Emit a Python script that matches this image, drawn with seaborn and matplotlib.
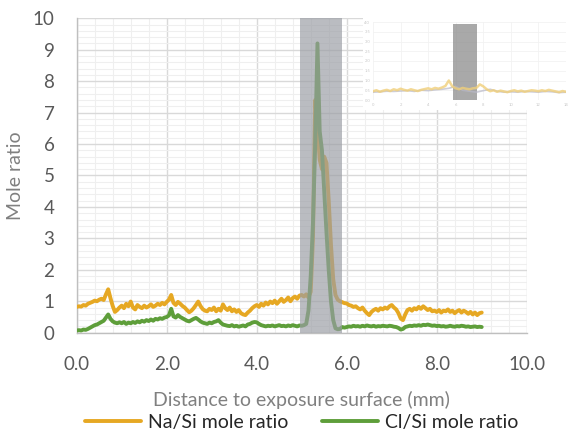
import numpy as np
import pandas as pd
import seaborn as sns
import matplotlib.pyplot as plt
from matplotlib.lines import Line2D
from matplotlib.ticker import MultipleLocator, FormatStrFormatter

sns.set_style("white")
plt.rcParams['font.family'] = ['Lato', 'DejaVu Sans']

# ---- data (0.05 mm step, 0 - 9 mm) ----
distance = np.round(np.arange(0, 181) * 0.05, 2)

na_si = [
    0.82, 0.84, 0.83, 0.88, 0.86, 0.92, 0.95, 0.98, 1.02, 1.00, 1.05, 1.08, 1.04, 1.22, 1.38, 1.10, 0.85, 0.66, 0.72, 0.80,
    0.86, 0.78, 0.92, 0.84, 0.99, 0.80, 0.74, 0.88, 0.82, 0.78, 0.86, 0.80, 0.84, 0.90, 0.82, 0.86, 0.92, 0.88, 0.95, 0.90,
    0.98, 1.05, 1.20, 0.95, 0.88, 0.98, 0.92, 0.85, 0.80, 0.72, 0.65, 0.70, 0.78, 0.88, 0.99, 0.85, 0.75, 0.70, 0.68, 0.76,
    0.72, 0.80, 0.68, 0.76, 0.70, 0.90, 0.78, 0.72, 0.80, 0.68, 0.74, 0.66, 0.72, 0.62, 0.58, 0.56, 0.64, 0.70, 0.78, 0.84,
    0.88, 0.82, 0.92, 0.86, 0.96, 0.90, 0.99, 0.94, 1.02, 0.92, 1.00, 1.08, 0.98, 1.04, 1.12, 1.00, 1.10, 1.15, 1.08, 1.18,
    1.20, 1.15, 1.22, 1.12, 1.30, 3.00, 7.40, 6.50, 5.50, 5.20, 5.60, 5.40, 4.20, 2.80, 1.70, 1.20, 1.05, 1.00, 0.97, 0.94,
    0.93, 0.88, 0.86, 0.82, 0.84, 0.78, 0.74, 0.80, 0.70, 0.62, 0.56, 0.66, 0.72, 0.76, 0.70, 0.78, 0.74, 0.80, 0.76, 0.84,
    0.88, 0.80, 0.74, 0.62, 0.45, 0.40, 0.58, 0.72, 0.76, 0.70, 0.78, 0.74, 0.82, 0.76, 0.84, 0.78, 0.72, 0.76, 0.68, 0.70,
    0.66, 0.72, 0.64, 0.70, 0.68, 0.74, 0.66, 0.70, 0.62, 0.68, 0.72, 0.64, 0.70, 0.66, 0.60, 0.66, 0.58, 0.64, 0.56, 0.62,
    0.64,
]

cl_si = [
    0.07, 0.08, 0.07, 0.10, 0.09, 0.12, 0.16, 0.20, 0.24, 0.26, 0.30, 0.34, 0.38, 0.48, 0.58, 0.44, 0.36, 0.32, 0.30, 0.33,
    0.30, 0.34, 0.28, 0.32, 0.30, 0.34, 0.31, 0.36, 0.33, 0.38, 0.35, 0.40, 0.37, 0.42, 0.38, 0.44, 0.42, 0.46, 0.44, 0.48,
    0.50, 0.55, 0.76, 0.52, 0.48, 0.56, 0.50, 0.46, 0.42, 0.38, 0.36, 0.40, 0.44, 0.47, 0.42, 0.36, 0.32, 0.30, 0.28, 0.32,
    0.30, 0.34, 0.36, 0.40, 0.32, 0.26, 0.24, 0.22, 0.21, 0.24, 0.20, 0.22, 0.19, 0.21, 0.23, 0.20, 0.26, 0.28, 0.32, 0.34,
    0.33, 0.28, 0.24, 0.22, 0.20, 0.22, 0.21, 0.23, 0.20, 0.22, 0.24, 0.21, 0.22, 0.20, 0.23, 0.21, 0.24, 0.22, 0.20, 0.23,
    0.22, 0.24, 0.28, 0.70, 1.80, 3.50, 6.00, 9.20, 6.40, 5.80, 4.50, 3.20, 2.00, 1.00, 0.40, 0.14, 0.11, 0.12, 0.18, 0.16,
    0.18, 0.20, 0.19, 0.22, 0.20, 0.21, 0.19, 0.22, 0.20, 0.23, 0.21, 0.20, 0.22, 0.19, 0.21, 0.20, 0.22, 0.21, 0.20, 0.22,
    0.21, 0.19, 0.18, 0.15, 0.10, 0.12, 0.18, 0.20, 0.22, 0.21, 0.23, 0.22, 0.24, 0.22, 0.25, 0.24, 0.26, 0.24, 0.22, 0.23,
    0.21, 0.22, 0.20, 0.21, 0.19, 0.20, 0.22, 0.20, 0.19, 0.21, 0.20, 0.22, 0.21, 0.19, 0.20, 0.18, 0.19, 0.20, 0.18, 0.19,
    0.18,
]

band = (4.96, 5.89)

# inset (small pasted chart, top right)
inset_x = np.round(np.arange(0, 57) * 0.25, 2)
inset_yellow = [
    0.45, 0.50, 0.42, 0.48, 0.52, 0.46, 0.55, 0.50, 0.58, 0.52, 0.48, 0.55,
    0.50, 0.46, 0.52, 0.56, 0.60, 0.55, 0.62, 0.58, 0.64, 0.72, 1.00, 0.70,
    0.60, 0.55, 0.62, 0.58, 0.55, 0.60, 0.62, 0.80, 0.70, 0.55, 0.45, 0.50,
    0.42, 0.48, 0.44, 0.40, 0.46, 0.50, 0.44, 0.48, 0.42, 0.46, 0.50, 0.48,
    0.45, 0.50, 0.46, 0.52, 0.48, 0.44, 0.40, 0.46, 0.42,
]
inset_x2 = np.round(np.arange(0, 29) * 0.5, 1)
inset_gray = [0.40, 0.42, 0.45, 0.44, 0.46, 0.48, 0.44, 0.50, 0.48, 0.52, 0.55, 0.60, 0.70, 0.50,
              0.45, 0.40, 0.48, 0.55, 0.45, 0.40, 0.42, 0.40, 0.44, 0.42, 0.40, 0.44, 0.42, 0.38, 0.40]
inset_band = (5.78, 7.58)

na_color = '#E6A823'
cl_color = '#5E9E3A'
txt = '#595959'

df = pd.DataFrame({'d': distance, 'Na/Si mole ratio': na_si, 'Cl/Si mole ratio': cl_si})

fig = plt.figure(figsize=(5.69, 4.30), dpi=100)
ax = fig.add_axes([0.1348, 0.2263, 0.7909, 0.7312])

sns.lineplot(data=df, x='d', y='Na/Si mole ratio', ax=ax, color=na_color, lw=2.8, zorder=3)
sns.lineplot(data=df, x='d', y='Cl/Si mole ratio', ax=ax, color=cl_color, lw=2.8, zorder=4)
ax.axvspan(band[0], band[1], color='#9a9da4', alpha=0.68, lw=0, zorder=5)

ax.set_xlim(0, 10)
ax.set_ylim(0, 10)
ax.xaxis.set_major_locator(MultipleLocator(2))
ax.xaxis.set_minor_locator(MultipleLocator(0.4))
ax.yaxis.set_major_locator(MultipleLocator(1))
ax.yaxis.set_minor_locator(MultipleLocator(0.2))
ax.xaxis.set_major_formatter(FormatStrFormatter('%.1f'))
ax.grid(which='major', color='#d9d9d9', lw=1.0, zorder=0)
ax.grid(which='minor', color='#efefef', lw=0.8, zorder=0)
ax.set_axisbelow(True)
for s in ['top', 'right']:
    ax.spines[s].set_visible(False)
for s in ['left', 'bottom']:
    ax.spines[s].set_color('#bfbfbf')
    ax.spines[s].set_linewidth(1.0)
ax.tick_params(which='major', length=5, width=1, color='#bfbfbf', labelcolor=txt, labelsize=13.5)
ax.tick_params(axis='x', pad=12)
ax.tick_params(axis='y', pad=11)
ax.tick_params(which='minor', length=0)
ax.set_xlabel('Distance to exposure surface (mm)', fontsize=14, color='#808080', labelpad=13)
ax.set_ylabel('Mole ratio', fontsize=14, color='#808080', labelpad=6)

# legend below
handles = [Line2D([], [], color=na_color, lw=2.8), Line2D([], [], color=cl_color, lw=2.8)]
fig.legend(handles, ['Na/Si mole ratio', 'Cl/Si mole ratio'], loc='center', ncol=2,
           bbox_to_anchor=(0.53, 0.018), frameon=False, fontsize=14, handlelength=2.9,
           handletextpad=0.35, columnspacing=1.7, labelcolor='#262626')

# inset picture
bg = fig.add_axes([363 / 569, 1 - 110 / 430, 206 / 569, 93 / 430])
bg.set_facecolor('white')
bg.set_xticks([])
bg.set_yticks([])
for s in bg.spines.values():
    s.set_visible(False)
bg.set_zorder(10)

ins = fig.add_axes([373 / 569, 1 - 100 / 430, 193 / 569, 78 / 430])
ins.set_zorder(11)
ins.patch.set_alpha(0)
sns.lineplot(x=inset_x2, y=inset_gray, ax=ins, color='#b8b8c8', lw=1.2, alpha=0.7)
sns.lineplot(x=inset_x, y=inset_yellow, ax=ins, color='#f0cf7a', lw=1.8, alpha=0.8)
ins.axvspan(inset_band[0], inset_band[1], ymax=0.975, color='#8c8c8c', alpha=0.75, lw=0)
ins.set_xlim(0, 14)
ins.set_ylim(0, 4)
ins.xaxis.set_major_locator(MultipleLocator(2))
ins.yaxis.set_major_locator(MultipleLocator(0.5))
ins.grid(which='major', color='#f2f2f2', lw=0.6)
for s in ins.spines.values():
    s.set_visible(False)
ins.tick_params(length=0, labelsize=3, labelcolor='#c8c8c8', pad=2)
ins.set_xlabel('')
ins.set_ylabel('')

fig.savefig('out.png', dpi=100)
